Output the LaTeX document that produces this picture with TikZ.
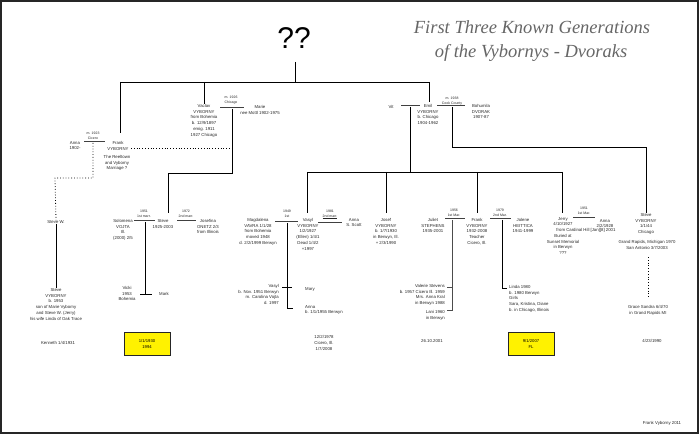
\documentclass[tikz,border=0pt]{standalone}
\usepackage{fontspec}
\setmainfont{Liberation Sans}
\newfontfamily\titlefont{Liberation Serif}
\begin{document}
\begin{tikzpicture}[x=1pt,y=-1pt,
 tx/.style={font=\fontsize{4.3}{5.8}\selectfont, align=center, inner sep=0pt, text=black!85},
 txl/.style={tx, align=left},
 txr/.style={tx, align=right},
 ml/.style={font=\fontsize{3.5}{4.6}\selectfont, align=center, inner sep=0pt, text=black!85},
 cn/.style={line width=0.9pt, black},
 marr/.style={draw=black!75, line width=0.45pt, double=white, double distance=0.8pt},
 dotl/.style={line width=0.8pt, dotted, black},
 ybox/.style={draw=black!85, line width=1pt, fill=yellow, minimum width=46pt, minimum height=23pt, inner sep=0pt, align=center, font=\fontsize{4.2}{5.7}\selectfont},
 ttl/.style={font=\titlefont\itshape\fontsize{18.5}{20}\selectfont, text=black!60, inner sep=0pt}
]
\useasboundingbox (0,0) rectangle (700,435);
\draw[line width=1.6pt, black!85] (1,1) rectangle (698,433);

% title
\node[ttl] (T1) at (532,27) {First Three Known Generations};
\node[ttl] (T2) at (531,53) {of the Vybornys - Dvoraks};

% generation 1
\node[font=\fontsize{30}{30}\selectfont, inner sep=0pt] (QQ) at (294,38) {??};
\coordinate (q0) at (295,62);
\coordinate (q1) at (295,82);
\coordinate (barL) at (120,82);
\coordinate (barM) at (204,82);
\coordinate (barR) at (429,82);
\draw[cn] (q0) -- (q1);
\draw[cn] (barL) -- (barR);

% generation 2 - left
\node[ml, anchor=north] (mA) at (93,132) {m. 1923\\Cicero};
\node[tx, anchor=north] (A1) at (75,141) {Anna\\1902-};
\coordinate (mA1) at (84,142);
\coordinate (mA2) at (105,142);
\draw[marr] (mA1) -- (mA2);
\node[tx, anchor=north] (A2) at (118,141) {Frank\\VYBORNY};
\node[tx, anchor=north] (A3) at (117,155) {The Reeltown\\and Vyborny\\Marriage ?};
\coordinate (A2top) at (120,133);
\draw[cn] (barL) -- (A2top);
\coordinate (dA) at (131,148);
\coordinate (dB) at (232,148);
\draw[dotl] (dA) -- (dB);
\coordinate (mAc) at (93,143);
\coordinate (kA) at (55,178);
\node[tx] (SW) at (56,222) {Steve W.};
\draw[dotl] (mAc) |- (kA) -- (SW.north);
\node[tx, anchor=north] (L6) at (56,288) {Steve\\VYBORNY\\b. 1953\\son of Marie Vyborny\\and Steve W. (Jerry)\\his wife Linda of Oak Trace};
\draw[cn] (SW.south) -- (L6.north);
\node[tx] (LB) at (58,343) {Kenneth 1/4/1931};

% generation 2 - middle
\node[tx, anchor=north] (B1) at (204,104) {Vaclav\\VYBORNY\\from Bohemia\\b. 12/9/1897\\emig. 1911\\1927 Chicago};
\draw[cn] (barM) -- (B1.north);
\node[ml, anchor=north] (mB) at (231,96) {m. 1926\\Chicago};
\coordinate (mB1) at (220,108);
\coordinate (mB2) at (244,108);
\draw[marr] (mB1) -- (mB2);
\node[tx, anchor=north] (B2) at (260,105) {Marie\\nee Mottl 1902-1975};
\coordinate (mBc) at (232,109);
\coordinate (kB) at (168,173);
\coordinate (D2top) at (168,213);
\draw[cn] (mBc) |- (kB) -- (D2top);

% generation 2 - right
\node[tx] (C0) at (391,107) {Vit};
\coordinate (mC1) at (401,106);
\coordinate (mC2) at (420,106);
\draw[marr] (mC1) -- (mC2);
\node[tx, anchor=north] (C1) at (428,104) {Emil\\VYBORNY\\b. Chicago\\1904-1962};
\coordinate (C1top) at (429,102);
\draw[cn] (barR) -- (C1top);
\node[ml, anchor=north] (mC) at (452,97) {m. 1938\\Cook County};
\coordinate (mC3) at (437,106);
\coordinate (mC4) at (465,106);
\draw[marr] (mC3) -- (mC4);
\node[tx, anchor=north] (C2) at (481,104) {Bohumila\\DVORAK\\1907-87};
\coordinate (mCa) at (410,107);
\coordinate (jC) at (410,172);
\draw[cn] (mCa) -- (jC);
\coordinate (hL) at (307,172);
\coordinate (hC) at (386,172);
\coordinate (hD) at (477,172);
\coordinate (hR) at (562,172);
\draw[cn] (hL) -- (hR);
\coordinate (E2top) at (307,213);
\coordinate (F1top) at (386,213);
\coordinate (G2top) at (477,213);
\coordinate (H1top) at (562,213);
\draw[cn] (hL) -- (E2top);
\draw[cn] (hC) -- (F1top);
\draw[cn] (hD) -- (G2top);
\draw[cn] (hR) -- (H1top);
\coordinate (mCb) at (452,107);
\coordinate (kC) at (646,147);
\coordinate (I1top) at (646,213);
\draw[cn] (mCb) |- (kC) -- (I1top);

% generation 3 - group A
\node[tx, anchor=north] (D1) at (123,219) {Solomena\\VOJTA\\Ill.\\(2000) 2/5};
\node[ml, anchor=north] (mD1) at (144,210) {1951\\1st marr.};
\coordinate (mD1a) at (134,221);
\coordinate (mD1b) at (155,221);
\draw[marr] (mD1a) -- (mD1b);
\node[tx, anchor=north] (D2) at (163,219) {Steve\\1925-2003};
\node[ml, anchor=north] (mD2) at (186,210) {1972\\2nd marr.};
\coordinate (mD2a) at (177,221);
\coordinate (mD2b) at (196,221);
\draw[marr] (mD2a) -- (mD2b);
\node[tx, anchor=north] (D3) at (208,219) {Josefina\\ONETZ 2/3\\from Illinois};
\coordinate (mD1c) at (145,222);
\coordinate (kD) at (145,294);
\draw[cn] (mD1c) -- (kD);
\coordinate (kD1) at (140,294);
\coordinate (kD2) at (152,294);
\draw[cn] (kD1) -- (kD2);
\node[tx, anchor=north] (D4) at (127,286) {Vicki\\1953\\Bohemia};
\node[tx] (D5) at (164,294) {Mark};
\node[ybox] (Y1) at (147,344) {1/1/1930\\1994};

% generation 3 - group B
\node[tx, anchor=north] (E1) at (258,218) {Magdalena\\VAVRA 1/1/28\\from Bohemia\\moved 1948\\d. 2/2/1999 Berwyn};
\node[ml, anchor=north] (mE1) at (287,210) {1949\\1st};
\coordinate (mE1a) at (275,222);
\coordinate (mE1b) at (298,222);
\draw[marr] (mE1a) -- (mE1b);
\node[tx, anchor=north] (E2) at (308,218) {Vasyl\\VYBORNY\\1/2/1927\\(Ellen) 1/4/1\\Dead 1/4/2\\+1997};
\node[ml, anchor=north] (mE2) at (330,210) {1981\\\underline{2nd marr.}};
\coordinate (mE2a) at (318,223);
\coordinate (mE2b) at (342,223);
\draw[marr] (mE2a) -- (mE2b);
\node[tx, anchor=north] (E3) at (354,218) {Anna\\S. Scott};
\coordinate (mE1c) at (287,223);
\coordinate (kE) at (293,308);
\draw[cn] (mE1c) |- (kE);
\coordinate (kE1) at (282,287);
\coordinate (kE2) at (292,287);
\draw[cn] (kE1) -- (kE2);
\node[txr, anchor=north east] (E4) at (279,284) {Vasyl\\b. Nov. 1951 Berwyn\\m. Carolina Vojta\\d. 1997};
\node[tx] (E5) at (310,289) {Mary};
\node[txl, anchor=north west] (E6) at (305,305) {Anna\\b. 1/1/1955 Berwyn};
\node[tx] (E7) at (324,343) {12/2/1978\\Cicero, Ill.\\1/7/2008};

% generation 3 - group C
\node[tx, anchor=north] (F1) at (386,218) {Josef\\VYBORNY\\b. 1/7/1930\\in Berwyn, Ill.\\+ 2/3/1990};
\node[tx] (F2) at (432,341) {26.10.2001};

% generation 3 - group D
\node[tx, anchor=north] (G1) at (433,218) {Juliet\\STEPHENS\\1935-2001};
\node[ml, anchor=north] (mG1) at (454,209) {1956\\1st Mar.};
\coordinate (mG1a) at (445,219);
\coordinate (mG1b) at (465,219);
\draw[marr] (mG1a) -- (mG1b);
\node[tx, anchor=north] (G2) at (477,218) {Frank\\VYBORNY\\1932-2008\\Teacher\\Cicero, Ill.};
\node[ml, anchor=north] (mG2) at (500,209) {1979\\2nd Mar.};
\coordinate (mG2a) at (490,219);
\coordinate (mG2b) at (511,219);
\draw[marr] (mG2a) -- (mG2b);
\node[tx, anchor=north] (G3) at (523,218) {Jolene\\HEITTICA\\1941-1999};
\coordinate (mG1c) at (452,220);
\coordinate (kG) at (447,310);
\draw[cn, black!70] (mG1c) |- (kG);
\coordinate (kG1) at (447,287);
\coordinate (kG2) at (452,287);
\draw[cn, black!70] (kG1) -- (kG2);
\node[txr, anchor=north east] (G4) at (445,284) {Valerie Stevens\\b. 1957 Cicero Ill. 1959\\Mrs. Anna Kral\\in Berwyn 1988};
\node[txr, anchor=north east] (G5) at (445,310) {Lani 1960\\in Berwyn};
\coordinate (mG2c) at (502,220);
\coordinate (kG3) at (507,288);
\draw[cn] (mG2c) |- (kG3);
\node[txl, anchor=north west] (G6) at (509,285) {Linda 1980\\b. 1980 Berwyn\\Girls\\Sara, Kristina, Diane\\b. in Chicago, Illinois};
\node[ybox] (Y2) at (531,344) {9/1/2007\\FL};

% generation 3 - group E
\node[tx, anchor=north] (H1) at (563,217) {Jerry\\4/10/1927};
\node[tx] (H1b) at (586,230) {from Cardinal Hill [Jan][8] 2001};
\node[tx, anchor=north] (H1c) at (563,234) {Buried at\\Sunset Memorial\\in Berwyn\\???};
\node[ml, anchor=north] (mH) at (584,207) {1951\\1st Mar.};
\coordinate (mHa) at (573,218);
\coordinate (mHb) at (595,218);
\draw[marr] (mHa) -- (mHb);
\node[tx, anchor=north] (H2) at (605,219) {Anna\\2/2/1928};

% generation 3 - group F
\node[tx, anchor=north] (I1) at (646,213) {Steve\\VYBORNY\\1/1/44\\Chicago};
\node[tx, anchor=north] (I2) at (647,240) {Grand Rapids, Michigan 1970\\San Antonio 3/7/2003};
\node[tx, anchor=north] (I3) at (648,305) {Grace Sandra 6/4/70\\in Grand Rapids MI};
\coordinate (I2b) at (648,257);
\coordinate (I3t) at (648,298);
\draw[dotl] (I2b) -- (I3t);
\node[tx] (I4) at (652,341) {4/23/1990};

\node[tx] (SIG) at (662,423) {Frank Vyborny 2011};
\end{tikzpicture}
\end{document}
